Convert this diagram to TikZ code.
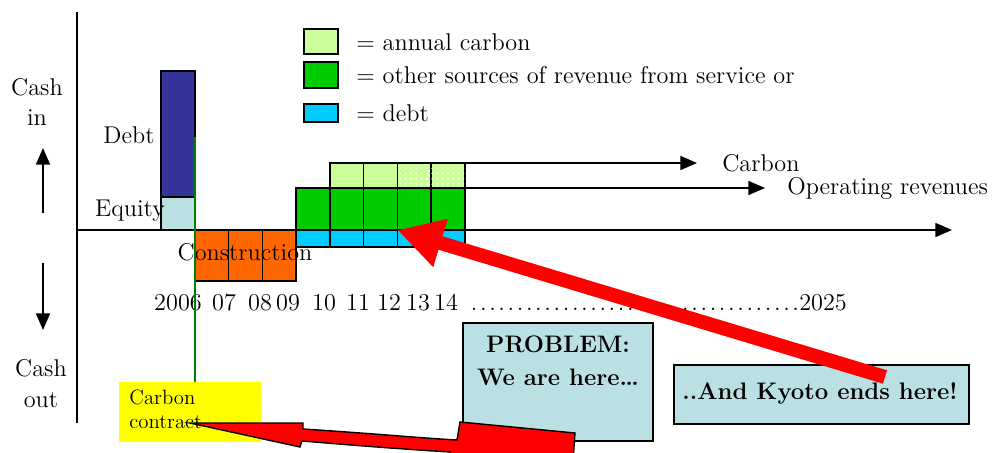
\documentclass[tikz,border=0pt]{standalone}
\usepackage{tikz}
\usetikzlibrary{arrows.meta,patterns,positioning}

\definecolor{debtblue}{HTML}{333399}
\definecolor{equityblue}{HTML}{BBE0E3}
\definecolor{constorange}{HTML}{FF6600}
\definecolor{revgreen}{HTML}{00CC00}
\definecolor{carbgreen}{HTML}{CCFF99}
\definecolor{loancyan}{HTML}{00CCFF}
\definecolor{notefill}{HTML}{BBE0E3}
\definecolor{contractyellow}{HTML}{FFFF00}
\definecolor{linegreen}{HTML}{008000}

\tikzset{
  bar/.style={draw=black, line width=0.9pt},
  lbl/.style={inner sep=0pt, font=\fontsize{13.8}{17.6}\selectfont},
  boldlbl/.style={inner sep=0pt, align=center, font=\fontsize{13.6}{18.7}\selectfont\bfseries},
  notebox/.style={draw=black, line width=1pt, fill=notefill, inner sep=0pt},
  flow/.style={line width=0.9pt, -{Triangle[length=9.5pt,width=8pt]}},
}

\begin{document}
\begin{tikzpicture}[x=0.02cm, y=-0.02cm]
\useasboundingbox (0,0) rectangle (992,453);

%%%%% AXES %%%%%
\draw[line width=0.9pt] (77,12) -- (77,423);
\coordinate (xstart) at (77,230);
\coordinate (xend) at (952,230);
\draw[flow] (xstart) -- (xend);

\node[lbl, align=center] (cashin) at (37,102) {Cash\\in};
\node[lbl, align=center] (cashout) at (41,384) {Cash\\out};
\coordinate (upbot) at (43,213);
\coordinate (uptop) at (43,148);
\draw[flow] (upbot) -- (uptop);
\coordinate (downtop) at (43,263);
\coordinate (downbot) at (43,330);
\draw[flow] (downtop) -- (downbot);

%%%%% FINANCING %%%%%
\draw[bar, fill=debtblue] (161,71) rectangle (195,197);
\draw[bar, fill=equityblue] (161,197) rectangle (195,230);
\node[lbl] (debtlbl) at (129,135) {Debt};
\node[lbl] (equitylbl) at (130,211) {Equity};

%%%%% CONSTRUCTION %%%%%
\foreach \x in {195,228.7,262.3}
  \draw[bar, fill=constorange] (\x,230) rectangle ++(33.7,51);
\node[lbl] (constlbl) at (245,252) {Construction};

%%%%% REVENUES %%%%%
\foreach \i in {0,...,4}{
  \draw[bar, fill=loancyan] ({296+33.8*\i},230) rectangle ++(33.8,17);
  \coordinate (db\i) at ({296+33.8*\i},230);
  \draw[bar, fill=revgreen] ({296+33.8*\i},188) rectangle ++(33.8,42);
}
\foreach \i in {1,...,4}
  \draw[bar, fill=carbgreen] ({296+33.8*\i},163) rectangle ++(33.8,25);
\fill[pattern=dots, pattern color=white] (398.4,164) rectangle (464,187);

\coordinate (carbstart) at (465,163);
\coordinate (carbend) at (697,163);
\draw[flow] (carbstart) -- (carbend);
\node[lbl, right=0.5cm of carbend] (carblbl) {Carbon};
\coordinate (opstart) at (465,188);
\coordinate (opend) at (765,188);
\draw[flow] (opstart) -- (opend);
\node[lbl, right=0.44cm of opend] (oplbl) {Operating revenues};

%%%%% YEARS %%%%%
\foreach \yr/\xc in {2006/178,07/224,08/260,09/288,10/324,11/358,12/389,13/418,14/446}
  \node[lbl, anchor=base] (yr\yr) at (\xc,310) {\yr};
\node[lbl, anchor=base west] (yrend) at (468,310)
  {\makebox[6.62cm]{\xleaders\hbox to 0.18cm{\hss.}\hfill}2025};

%%%%% LEGEND %%%%%
\draw[bar, fill=carbgreen] (304,29) rectangle (338,54);
\draw[bar, fill=revgreen] (304,62) rectangle (338,88);
\draw[bar, fill=loancyan] (304,104) rectangle (338,122);
\node[lbl, anchor=west] (leg1) at (356,42) {= annual carbon};
\node[lbl, anchor=west] (leg2) at (356,75) {= other sources of revenue from service or};
\node[lbl, anchor=west] (leg3) at (356,113) {= debt};

%%%%% NOTES %%%%%
\node[fill=contractyellow, minimum width=2.84cm, minimum height=1.2cm] (contract) at (190,412) {};
\node[inner sep=0pt, anchor=north west, align=left, font=\fontsize{11.8}{13.6}\selectfont] (contracttxt) at (129,390) {Carbon\\contract};
\coordinate (gtop) at (195,137);
\draw[linegreen, line width=1pt] (gtop) -- (gtop |- contract.north);

\node[notebox, minimum width=3.8cm, minimum height=2.36cm] (problem) at (558,382) {};
\node[boldlbl, anchor=north] (problemtxt) at ([yshift=-0.26cm]problem.north) {PROBLEM:\\We are here…};

\node[notebox, minimum width=5.9cm, minimum height=1.18cm] (kyoto) at (821.5,394.5) {};
\node[boldlbl] (kyototxt) at (820,393) {..And Kyoto ends here!};

%%%%% RED ARROWS %%%%%
\coordinate (kyotostart) at (885,377);
\draw[red, line width=2.8mm, -{Triangle[length=9mm,width=9.4mm]}] (kyotostart) -- (db3);

\coordinate (contracttip) at (190,423);
\draw[fill=red, line width=0.8pt] (contracttip) -- (303,423) -- (303,429)
  .. controls (380,434) and (420,438) .. (457,440) -- (460,422) -- (575,433)
  -- (572,475) -- (449,468) -- (450,452)
  .. controls (400,449) and (350,445) .. (302,441) -- (300,447) -- cycle;

\end{tikzpicture}
\end{document}
